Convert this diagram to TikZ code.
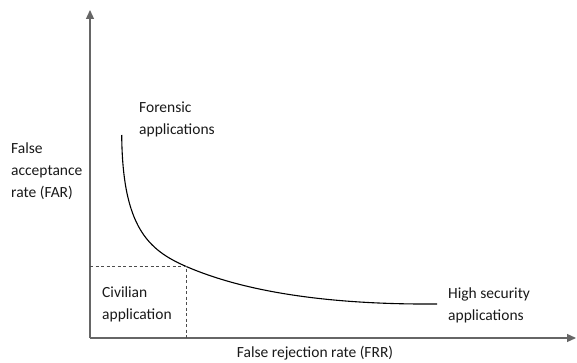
\documentclass[tikz,border=0pt]{standalone}
\usepackage{fontspec}
\setmainfont{Carlito}
\usetikzlibrary{arrows.meta}

\tikzset{
    axis/.style={draw=black!60, line width=1.2pt, -{Triangle[length=9pt,width=8pt]}},
    guide/.style={draw=black!70, line width=0.9pt, dash pattern=on 3pt off 2.5pt},
    label/.style={align=left, anchor=west, inner sep=0pt, font=\fontsize{15.5}{22}\selectfont, text=black!90}
}

\begin{document}
\begin{tikzpicture}[x=1pt, y=1pt]
    \useasboundingbox (0,0) rectangle (577,362);

    % Draw axes
    \coordinate (origin) at (90,24);
    \coordinate (ytop) at (90,352);
    \coordinate (xend) at (576,24);
    \draw[axis] (origin) -- (ytop);
    \draw[axis] (origin) -- (xend);

    % Draw operating curve
    \coordinate (curvetop) at (121.7,227);
    \coordinate (civtop) at (186.7,95.3);
    \coordinate (curveend) at (437,58);
    \draw[line width=1.1pt] (curvetop) .. controls (122.5,135) and (148,112) .. (civtop)
        .. controls (226.7,78.1) and (300,57) .. (curveend);

    % Draw civilian region
    \coordinate (civleft) at (90,95.3);
    \coordinate (civbase) at (186.7,24);
    \draw[guide] (civleft) -- (civtop) -- (civbase);

    % Label the axes
    \node[label] (far) at (11,191) {False\\acceptance\\rate (FAR)};
    \node[label, anchor=center] (frr) at (315,9) {False rejection rate (FRR)};

    % Label the regions
    \node[label] (forensic) at (139,243) {Forensic\\applications};
    \node[label] (civilian) at (102,58) {Civilian\\application};
    \node[label] (highsec) at (448,57) {High security\\applications};
\end{tikzpicture}
\end{document}
